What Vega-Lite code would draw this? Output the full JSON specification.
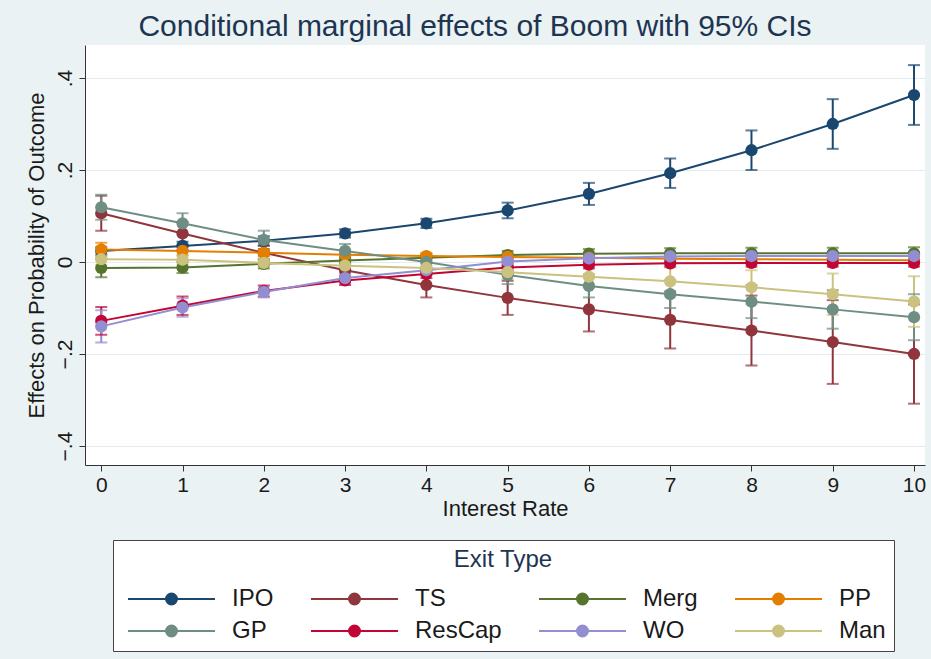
{
  "$schema": "https://vega.github.io/schema/vega-lite/v6.json",
  "autosize": {"type": "none"},
  "width": 840,
  "height": 420,
  "padding": {"left": 85, "top": 45, "right": 6, "bottom": 194},
  "background": "#eaf2f3",
  "title": {"text": "Conditional marginal effects of Boom with 95% CIs", "fontSize": 30, "fontWeight": "normal", "color": "#1e3552", "anchor": "middle", "baseline": "alphabetic", "offset": 6, "dx": -30, "dy": 27},
  "config": {
    "font": "Liberation Sans",
    "view": {"fill": "white", "stroke": null},
    "axis": {"labelFontSize": 21, "titleFontSize": 22, "titleFontWeight": "normal", "labelColor": "#1a1a1a", "titleColor": "#1a1a1a", "domainColor": "#333333", "tickColor": "#333333", "tickSize": 6}
  },
  "data": {"values": [
    {"t":"IPO","x":0,"y":0.024,"lo":0.016,"hi":0.032},
    {"t":"IPO","x":1,"y":0.035,"lo":0.026,"hi":0.044},
    {"t":"IPO","x":2,"y":0.046,"lo":0.036,"hi":0.056},
    {"t":"IPO","x":3,"y":0.062,"lo":0.053,"hi":0.071},
    {"t":"IPO","x":4,"y":0.084,"lo":0.074,"hi":0.094},
    {"t":"IPO","x":5,"y":0.112,"lo":0.095,"hi":0.129},
    {"t":"IPO","x":6,"y":0.148,"lo":0.124,"hi":0.172},
    {"t":"IPO","x":7,"y":0.193,"lo":0.161,"hi":0.225},
    {"t":"IPO","x":8,"y":0.243,"lo":0.200,"hi":0.286},
    {"t":"IPO","x":9,"y":0.300,"lo":0.246,"hi":0.354},
    {"t":"IPO","x":10,"y":0.363,"lo":0.298,"hi":0.428},
    {"t":"TS","x":0,"y":0.106,"lo":0.068,"hi":0.144},
    {"t":"TS","x":1,"y":0.062,"lo":0.037,"hi":0.087},
    {"t":"TS","x":2,"y":0.020,"lo":0.005,"hi":0.035},
    {"t":"TS","x":3,"y":-0.018,"lo":-0.033,"hi":-0.003},
    {"t":"TS","x":4,"y":-0.050,"lo":-0.077,"hi":-0.023},
    {"t":"TS","x":5,"y":-0.078,"lo":-0.115,"hi":-0.041},
    {"t":"TS","x":6,"y":-0.103,"lo":-0.151,"hi":-0.055},
    {"t":"TS","x":7,"y":-0.126,"lo":-0.188,"hi":-0.064},
    {"t":"TS","x":8,"y":-0.149,"lo":-0.225,"hi":-0.073},
    {"t":"TS","x":9,"y":-0.174,"lo":-0.265,"hi":-0.083},
    {"t":"TS","x":10,"y":-0.200,"lo":-0.308,"hi":-0.092},
    {"t":"Merg","x":0,"y":-0.013,"lo":-0.033,"hi":0.007},
    {"t":"Merg","x":1,"y":-0.012,"lo":-0.024,"hi":0.000},
    {"t":"Merg","x":2,"y":-0.004,"lo":-0.014,"hi":0.006},
    {"t":"Merg","x":3,"y":0.003,"lo":-0.005,"hi":0.011},
    {"t":"Merg","x":4,"y":0.009,"lo":0.001,"hi":0.017},
    {"t":"Merg","x":5,"y":0.015,"lo":0.006,"hi":0.024},
    {"t":"Merg","x":6,"y":0.018,"lo":0.008,"hi":0.028},
    {"t":"Merg","x":7,"y":0.019,"lo":0.008,"hi":0.030},
    {"t":"Merg","x":8,"y":0.019,"lo":0.007,"hi":0.031},
    {"t":"Merg","x":9,"y":0.019,"lo":0.007,"hi":0.031},
    {"t":"Merg","x":10,"y":0.019,"lo":0.006,"hi":0.032},
    {"t":"PP","x":0,"y":0.027,"lo":0.012,"hi":0.042},
    {"t":"PP","x":1,"y":0.024,"lo":0.014,"hi":0.034},
    {"t":"PP","x":2,"y":0.020,"lo":0.012,"hi":0.028},
    {"t":"PP","x":3,"y":0.016,"lo":0.009,"hi":0.023},
    {"t":"PP","x":4,"y":0.013,"lo":0.006,"hi":0.020},
    {"t":"PP","x":5,"y":0.011,"lo":0.004,"hi":0.018},
    {"t":"PP","x":6,"y":0.009,"lo":0.002,"hi":0.016},
    {"t":"PP","x":7,"y":0.007,"lo":0.000,"hi":0.014},
    {"t":"PP","x":8,"y":0.006,"lo":-0.001,"hi":0.013},
    {"t":"PP","x":9,"y":0.005,"lo":-0.002,"hi":0.012},
    {"t":"PP","x":10,"y":0.004,"lo":-0.003,"hi":0.011},
    {"t":"GP","x":0,"y":0.119,"lo":0.092,"hi":0.146},
    {"t":"GP","x":1,"y":0.084,"lo":0.062,"hi":0.106},
    {"t":"GP","x":2,"y":0.048,"lo":0.028,"hi":0.068},
    {"t":"GP","x":3,"y":0.024,"lo":0.009,"hi":0.039},
    {"t":"GP","x":4,"y":0.000,"lo":-0.015,"hi":0.015},
    {"t":"GP","x":5,"y":-0.028,"lo":-0.048,"hi":-0.008},
    {"t":"GP","x":6,"y":-0.052,"lo":-0.077,"hi":-0.027},
    {"t":"GP","x":7,"y":-0.070,"lo":-0.100,"hi":-0.040},
    {"t":"GP","x":8,"y":-0.086,"lo":-0.122,"hi":-0.050},
    {"t":"GP","x":9,"y":-0.103,"lo":-0.145,"hi":-0.061},
    {"t":"GP","x":10,"y":-0.120,"lo":-0.170,"hi":-0.070},
    {"t":"ResCap","x":0,"y":-0.128,"lo":-0.158,"hi":-0.098},
    {"t":"ResCap","x":1,"y":-0.095,"lo":-0.115,"hi":-0.075},
    {"t":"ResCap","x":2,"y":-0.063,"lo":-0.075,"hi":-0.051},
    {"t":"ResCap","x":3,"y":-0.040,"lo":-0.050,"hi":-0.030},
    {"t":"ResCap","x":4,"y":-0.026,"lo":-0.035,"hi":-0.017},
    {"t":"ResCap","x":5,"y":-0.012,"lo":-0.020,"hi":-0.004},
    {"t":"ResCap","x":6,"y":-0.006,"lo":-0.014,"hi":0.002},
    {"t":"ResCap","x":7,"y":-0.003,"lo":-0.011,"hi":0.005},
    {"t":"ResCap","x":8,"y":-0.002,"lo":-0.010,"hi":0.006},
    {"t":"ResCap","x":9,"y":-0.002,"lo":-0.010,"hi":0.006},
    {"t":"ResCap","x":10,"y":-0.002,"lo":-0.010,"hi":0.006},
    {"t":"WO","x":0,"y":-0.140,"lo":-0.175,"hi":-0.105},
    {"t":"WO","x":1,"y":-0.099,"lo":-0.119,"hi":-0.079},
    {"t":"WO","x":2,"y":-0.065,"lo":-0.077,"hi":-0.053},
    {"t":"WO","x":3,"y":-0.035,"lo":-0.045,"hi":-0.025},
    {"t":"WO","x":4,"y":-0.018,"lo":-0.027,"hi":-0.009},
    {"t":"WO","x":5,"y":0.001,"lo":-0.007,"hi":0.009},
    {"t":"WO","x":6,"y":0.008,"lo":0.000,"hi":0.016},
    {"t":"WO","x":7,"y":0.012,"lo":0.004,"hi":0.020},
    {"t":"WO","x":8,"y":0.013,"lo":0.005,"hi":0.021},
    {"t":"WO","x":9,"y":0.013,"lo":0.005,"hi":0.021},
    {"t":"WO","x":10,"y":0.013,"lo":0.005,"hi":0.021},
    {"t":"Man","x":0,"y":0.006,"lo":-0.006,"hi":0.018},
    {"t":"Man","x":1,"y":0.005,"lo":-0.005,"hi":0.015},
    {"t":"Man","x":2,"y":-0.002,"lo":-0.010,"hi":0.006},
    {"t":"Man","x":3,"y":-0.008,"lo":-0.016,"hi":0.000},
    {"t":"Man","x":4,"y":-0.013,"lo":-0.023,"hi":-0.003},
    {"t":"Man","x":5,"y":-0.022,"lo":-0.037,"hi":-0.007},
    {"t":"Man","x":6,"y":-0.032,"lo":-0.054,"hi":-0.010},
    {"t":"Man","x":7,"y":-0.042,"lo":-0.072,"hi":-0.012},
    {"t":"Man","x":8,"y":-0.055,"lo":-0.092,"hi":-0.018},
    {"t":"Man","x":9,"y":-0.070,"lo":-0.115,"hi":-0.025},
    {"t":"Man","x":10,"y":-0.086,"lo":-0.141,"hi":-0.031}
  ]},
  "encoding": {
    "x": {"field": "x", "type": "quantitative", "scale": {"domain": [-0.2, 10.135], "nice": false, "zero": false},
          "axis": {"values": [0,1,2,3,4,5,6,7,8,9,10], "title": "Interest Rate", "grid": false, "labelPadding": 3, "titlePadding": 3}},
    "color": {"field": "t", "type": "nominal",
      "scale": {"domain": ["IPO","TS","Merg","PP","GP","ResCap","WO","Man"], "range": ["#1a476f","#90353b","#55752f","#e37e00","#6e8e84","#c10534","#938dd2","#cac27e"]},
      "legend": {"orient": "none", "legendX": 28, "legendY": 495, "direction": "horizontal", "columns": 4, "title": "Exit Type",
        "titleFontSize": 24, "titleFontWeight": "normal", "titleColor": "#1e3552", "titleAnchor": "middle", "titlePadding": 15,
        "labelFontSize": 24, "labelColor": "#1a1a1a", "labelOffset": 87, "columnPadding": 30, "rowPadding": 8,
        "fillColor": "white", "strokeColor": "#444444", "padding": 8,
        "symbolType": "M-1,0H16.4M8.8,0A1.1,1.1,0,1,0,6.6,0A1.1,1.1,0,1,0,8.8,0Z", "symbolSize": 100, "symbolStrokeWidth": 2,
        "encode": {"symbols": {"update": {"fill": {"scale": "color", "field": "value"}, "stroke": {"scale": "color", "field": "value"}, "opacity": {"value": 1}}}}}
    }
  },
  "layer": [
    {"mark": {"type": "rule", "strokeWidth": 2},
     "encoding": {"y": {"field": "lo", "type": "quantitative", "scale": {"domain": [-0.4413, 0.4717], "nice": false, "zero": false},
        "axis": {"values": [-0.4,-0.2,0,0.2,0.4], "title": "Effects on Probability of Outcome", "labelAngle": 270, "labelExpr": "datum.value == 0 ? '0' : replace(format(datum.value, '.1f'), '0.', '.')", "grid": true, "gridColor": "#e3ebee", "labelPadding": 4, "titlePadding": 6}},
       "y2": {"field": "hi"}}},
    {"mark": {"type": "tick", "orient": "horizontal", "size": 12, "thickness": 2},
     "encoding": {"y": {"field": "lo", "type": "quantitative"}}},
    {"mark": {"type": "tick", "orient": "horizontal", "size": 12, "thickness": 2},
     "encoding": {"y": {"field": "hi", "type": "quantitative"}}},
    {"mark": {"type": "line", "strokeWidth": 2},
     "encoding": {"y": {"field": "y", "type": "quantitative"}}},
    {"mark": {"type": "point", "filled": true, "size": 150, "opacity": 1},
     "encoding": {"y": {"field": "y", "type": "quantitative"}}}
  ]
}
